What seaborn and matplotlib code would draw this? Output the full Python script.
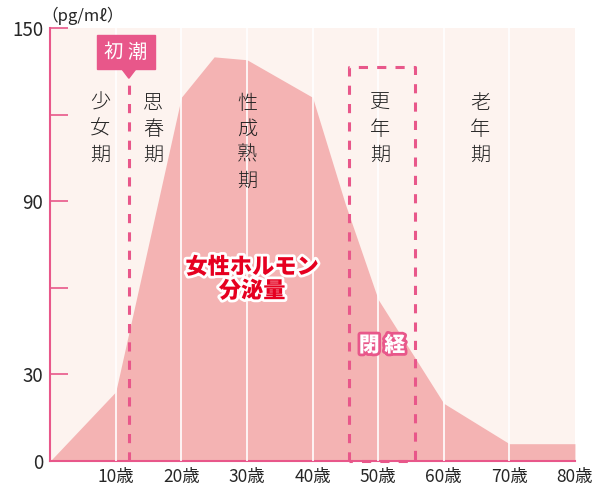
import matplotlib
matplotlib.use("Agg")
import matplotlib.pyplot as plt
import matplotlib.patheffects as pe
from matplotlib.patches import Rectangle, Polygon
import seaborn as sns

# hormone curve
ages = [0, 10, 20, 25, 30, 40, 45, 50, 60, 70, 80]
hormone = [0, 24, 126, 140, 139, 126, 89, 56, 20, 6, 6]

xticks = [10, 20, 30, 40, 50, 60, 70, 80]
xlabels = ["10歳", "20歳", "30歳", "40歳", "50歳", "60歳", "70歳", "80歳"]
yticks = [0, 30, 90, 150]
yticks_minor = [60, 120]

stages = ["少\n女\n期", "思\n春\n期", "性\n成\n熟\n期", "更\n年\n期", "老\n年\n期"]
stage_x = [7.6, 15.7, 30.0, 50.3, 65.6]

menarche_age = 12
meno_box = (45.6, 55.6, 136.5)

sns.set_style("white")
plt.rcParams["font.family"] = ["Noto Sans CJK JP", "DejaVu Sans"]

pink = "#E8578A"
fill = "#F4B3B3"
bg = "#FDF3EF"

fig = plt.figure(figsize=(5.97, 4.86), dpi=100)
ax = fig.add_axes([0.084, 0.0514, 0.879, 0.891])
ax.set_facecolor(bg)

sns.lineplot(x=ages, y=hormone, ax=ax, color=fill, lw=0, zorder=2)
ax.fill_between(ages, hormone, color=fill, lw=0, zorder=2)

for x in [10, 20, 30, 40, 50, 60, 70]:
    ax.axvline(x, color="white", lw=1.2, zorder=3)

ax.set_xlim(0, 80)
ax.set_ylim(0, 150)

# menarche line and label
ax.plot([menarche_age, menarche_age], [0, 132], color=pink, lw=2.2,
        ls=(0, (3, 3)), zorder=4)
ax.add_patch(Rectangle((7.1, 135.7), 8.9, 11.9, color=pink, zorder=5, clip_on=False))
ax.add_patch(Polygon([[10.9, 135.9], [13.1, 135.9], [12.0, 132.6]], color=pink, zorder=5))
ax.text(11.55, 141.6, "初 潮", color="white", fontsize=14, ha="center", va="center", zorder=6)

# menopause dashed box
x0, x1, top = meno_box
ax.plot([x0, x0, x1, x1, x0], [0, top, top, 0, 0], color=pink, lw=2.2,
        ls=(0, (3, 3)), zorder=4, clip_on=False)

for s, x in zip(stages, stage_x):
    ax.text(x, 127.5, s, fontsize=14.5, fontweight="light", ha="center", va="top",
            linespacing=1.3, color="#222222", zorder=6)

ax.text(30.8, 63, "女性ホルモン\n分泌量", color="#E60020", fontsize=16, fontweight="heavy",
        ha="center", va="center", linespacing=1.05, zorder=6,
        path_effects=[pe.withStroke(linewidth=4, foreground="white")])
ax.text(50.6, 40, "閉 経", color="white", fontsize=15, fontweight="heavy",
        ha="center", va="center", zorder=6,
        path_effects=[pe.withStroke(linewidth=4, foreground=pink)])

ax.set_xticks(xticks)
ax.set_xticklabels(xlabels, fontsize=12.5)
ax.set_yticks(yticks)
ax.set_yticklabels([str(v) for v in yticks], fontsize=13.5)
ax.set_yticks(yticks_minor, minor=True)
ax.tick_params(axis="x", length=0, pad=5)
ax.tick_params(axis="y", which="both", left=True, direction="in", length=13,
               color=pink, width=1.2, pad=5)

for side in ["top", "right"]:
    ax.spines[side].set_visible(False)
for side in ["left", "bottom"]:
    ax.spines[side].set_color(pink)
    ax.spines[side].set_linewidth(1.5)

fig.text(0.07, 0.967, "（pg/mℓ）", fontsize=12, ha="left", va="center")

fig.savefig("out.png", dpi=100)
